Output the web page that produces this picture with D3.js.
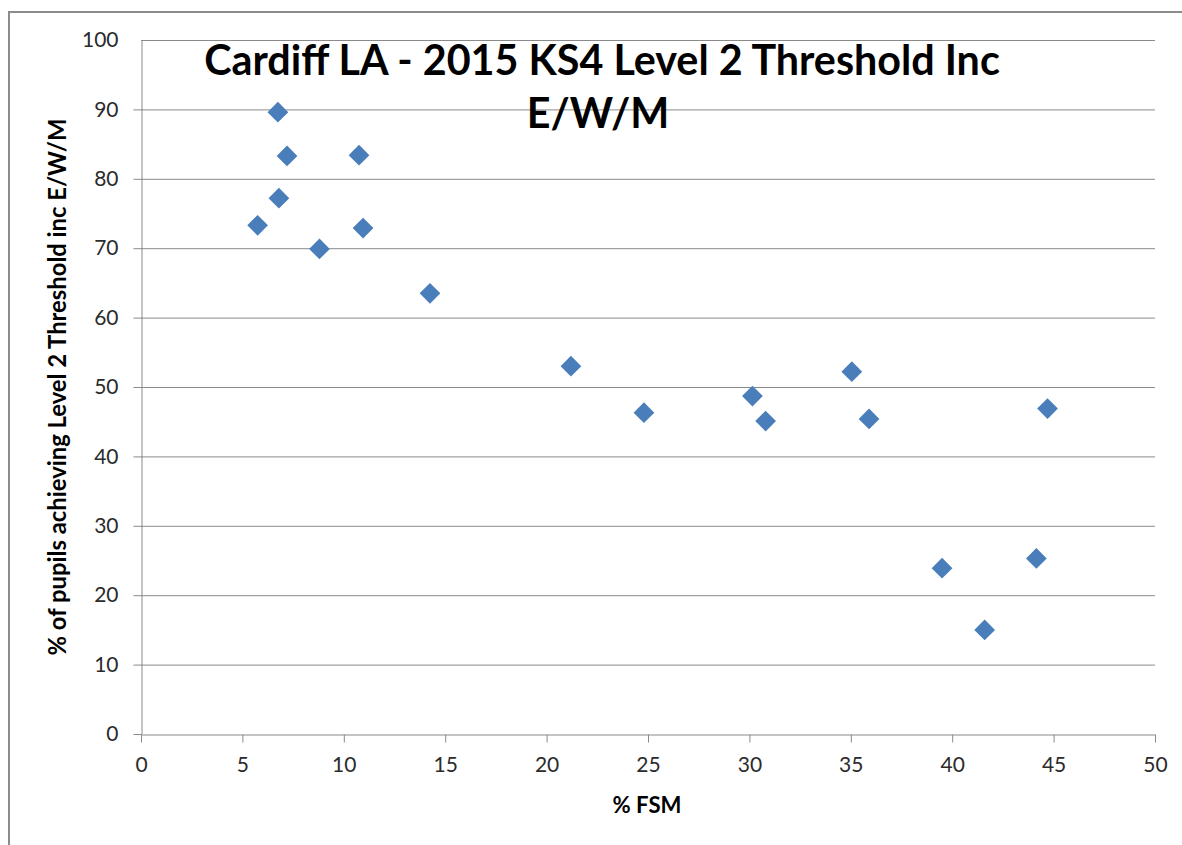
<!DOCTYPE html>
<html>
<head>
<meta charset="utf-8">
<script src="https://cdn.jsdelivr.net/npm/d3@7"></script>
<style>
  body { margin: 0; background: #fff; }
  svg { display: block; font-family: Lato, "Open Sans", sans-serif; }
</style>
</head>
<body>
<div id="chart"></div>
<script>
// % FSM per school (x) and % achieving Level 2 threshold inc E/W/M (y)
var fsm = [6.75, 7.2, 10.75, 6.8, 5.75, 10.95, 8.8, 14.25, 21.2, 24.8,
           30.15, 30.8, 35.05, 35.9, 44.7, 39.5, 41.6, 44.15];
var pass = [89.6, 83.3, 83.4, 77.2, 73.3, 72.9, 69.9, 63.5, 53.0, 46.3,
            48.7, 45.1, 52.2, 45.4, 46.9, 23.9, 15.0, 25.3];
var xTicks = [0, 5, 10, 15, 20, 25, 30, 35, 40, 45, 50];
var yTicks = [0, 10, 20, 30, 40, 50, 60, 70, 80, 90, 100];
var titleLines = ["Cardiff LA - 2015 KS4 Level 2 Threshold Inc", "E/W/M"];
var xLabel = "% FSM";
var yLabel = "% of pupils achieving Level 2 Threshold inc E/W/M";

var W = 1182, H = 845;
var margin = { top: 40, right: 27, bottom: 111, left: 141 },
    width = W - margin.left - margin.right,
    height = H - margin.top - margin.bottom;

var root = d3.select("#chart").append("svg")
  .attr("width", W)
  .attr("height", H);

// outer chart frame (runs off the right and bottom edges)
root.append("path")
  .attr("d", "M9,845 V12 H1182")
  .attr("fill", "none")
  .attr("stroke", "#8c8c8c")
  .attr("stroke-width", 2);

var svg = root.append("g")
  .attr("transform", "translate(" + margin.left + "," + margin.top + ")");

var x = d3.scaleLinear().domain([0, 50]).range([0, width]);
var y = d3.scaleLinear().domain([0, 100]).range([height, 0]);

// horizontal gridlines
svg.append("g")
  .selectAll("line")
  .data(yTicks.filter(function(d) { return d > 0; }))
  .enter()
  .append("line")
  .attr("x1", 0)
  .attr("x2", width)
  .attr("y1", function(d) { return y(d) + 0.5; })
  .attr("y2", function(d) { return y(d) + 0.5; })
  .attr("stroke", "#8a8a8a")
  .attr("stroke-width", 1);

var x_axis = d3.axisBottom(x).tickValues(xTicks).tickSize(8).tickSizeOuter(0).tickPadding(15);
var y_axis = d3.axisLeft(y).tickValues(yTicks).tickSize(8).tickSizeOuter(0).tickPadding(15);

var gx = svg.append("g")
  .attr("transform", "translate(0," + (height + 0.5) + ")")
  .call(x_axis);

var gy = svg.append("g")
  .attr("transform", "translate(0.5,0)")
  .call(y_axis);

[gx, gy].forEach(function(g) {
  g.select(".domain").attr("stroke", "#8a8a8a");
  g.selectAll(".tick line").attr("stroke", "#8a8a8a");
  g.selectAll(".tick text")
    .attr("fill", "#2b2b2b")
    .style("font-size", "21px")
    .style("font-family", "Lato, sans-serif");
});
gy.select(".tick:last-of-type line").remove();

// diamond markers
var diamond = d3.symbol().type(d3.symbolSquare).size(215);
svg.append("g")
  .selectAll("path")
  .data(fsm.map(function(v, i) { return { x: v, y: pass[i] }; }))
  .enter()
  .append("path")
  .attr("d", diamond)
  .attr("transform", function(d) {
    return "translate(" + x(d.x) + "," + y(d.y) + ") rotate(45)";
  })
  .attr("fill", "#4a7ebb");

// title, sized to the original width
var title = root.append("g");
var t1 = title.append("text")
  .attr("x", 602)
  .attr("y", 75)
  .attr("text-anchor", "middle")
  .style("font-weight", "bold")
  .style("font-size", "36px")
  .text(titleLines[0]);
var fs = 36 * 796 / t1.node().getComputedTextLength();
t1.style("font-size", fs + "px");
title.append("text")
  .attr("x", 598)
  .attr("y", 128)
  .attr("text-anchor", "middle")
  .style("font-weight", "bold")
  .style("font-size", fs + "px")
  .text(titleLines[1]);

// axis titles
var xl = root.append("text")
  .attr("x", 647)
  .attr("y", 813)
  .attr("text-anchor", "middle")
  .style("font-weight", "bold")
  .style("font-size", "18px")
  .text(xLabel);
var xfs = 18 * 69 / xl.node().getComputedTextLength();
xl.style("font-size", xfs + "px");

var yl = root.append("text")
  .attr("transform", "translate(66,387) rotate(-90)")
  .attr("text-anchor", "middle")
  .style("font-weight", "bold")
  .style("font-size", "18px")
  .text(yLabel);
var yfs = 18 * 537 / yl.node().getComputedTextLength();
yl.style("font-size", yfs + "px");
</script>
</body>
</html>
